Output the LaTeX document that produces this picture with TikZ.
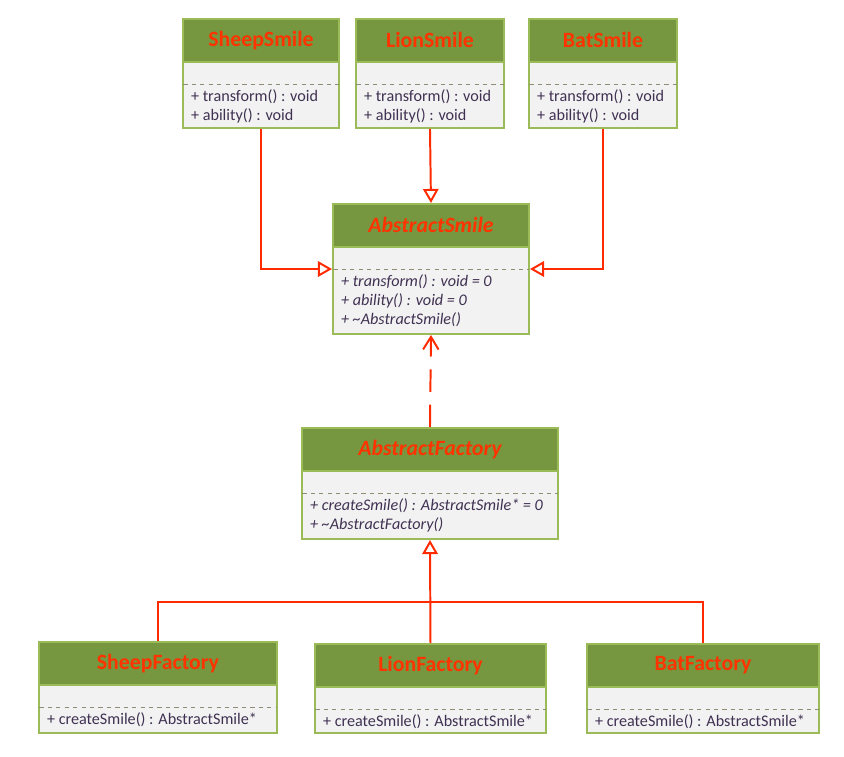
\documentclass[tikz,border=0pt]{standalone}
\usepackage{fontspec}
\setmainfont{Carlito}
\usetikzlibrary{arrows.meta,calc}

\definecolor{headgreen}{HTML}{76963F}
\definecolor{edgegreen}{HTML}{9BBB59}
\definecolor{bodygray}{HTML}{F2F2F2}
\definecolor{titlered}{HTML}{FF3300}
\definecolor{methodink}{HTML}{403152}
\definecolor{linkred}{HTML}{FF2A00}

\tikzset{
  classbody/.style={draw=edgegreen,fill=bodygray,line width=1.4pt,inner sep=0pt},
  classhead/.style={draw=edgegreen,fill=headgreen,line width=1.4pt,minimum height=1.07cm,
    inner sep=0pt,text=titlered,font=\fontsize{15.5}{18}\selectfont\bfseries},
  separator/.style={draw=gray!80!olive,dashed,line width=0.6pt},
  methods/.style={align=left,inner xsep=0.22cm,inner ysep=3.5pt,text=methodink,
    font=\fontsize{11.5}{13.8}\selectfont},
  inherit/.style={draw=linkred,line width=1.4pt,-{Triangle[open,length=10pt,width=11pt]}},
  realize/.style={draw=linkred,line width=1.4pt,dash pattern=on 16pt off 9pt,
    -{Straight Barb[length=9pt,width=11pt]}}
}

% name, top-left, width, height, title, methods
\newcommand{\umlclass}[6]{%
  \node[classbody,minimum width=#3cm,minimum height=#4cm,anchor=north west] (#1) at (#2) {};
  \node[classhead,minimum width=#3cm,anchor=north] (#1-head) at (#1.north) {#5};
  \coordinate (#1-sepw) at ([yshift=-1.65cm]#1.north west);
  \coordinate (#1-sepe) at ([yshift=-1.65cm]#1.north east);
  \draw[separator] ([xshift=1pt]#1-sepw) -- ([xshift=-1pt]#1-sepe);
  \node[methods,anchor=north west] at (#1-sepw) {#6};
}

\begin{document}
\begin{tikzpicture}
  \useasboundingbox (0,0) rectangle (21.1,-18.9);

  % concrete products
  \umlclass{sheepsmile}{4.55,-0.45}{3.9}{2.725}{SheepSmile}{+ transform() : void\\+ ability() : void}
  \umlclass{lionsmile}{8.875,-0.45}{3.7}{2.725}{LionSmile}{+ transform() : void\\+ ability() : void}
  \umlclass{batsmile}{13.2,-0.45}{3.7}{2.725}{BatSmile}{+ transform() : void\\+ ability() : void}

  % abstract product
  \umlclass{abssmile}{8.3,-5.075}{4.9}{3.25}{\itshape AbstractSmile}%
    {\itshape + transform() : void = 0\\\itshape + ability() : void = 0\\\itshape + \textasciitilde AbstractSmile()}

  % abstract factory
  \umlclass{absfactory}{7.525,-10.675}{6.4}{2.775}{\itshape AbstractFactory}%
    {\itshape + createSmile() : AbstractSmile* = 0\\\itshape + \textasciitilde AbstractFactory()}

  % concrete factories
  \umlclass{sheepfactory}{0.95,-16.025}{5.95}{2.275}{SheepFactory}{+ createSmile() : AbstractSmile*}
  \umlclass{lionfactory}{7.85,-16.075}{5.775}{2.225}{LionFactory}{+ createSmile() : AbstractSmile*}
  \umlclass{batfactory}{14.65,-16.075}{5.8}{2.225}{BatFactory}{+ createSmile() : AbstractSmile*}

  % product hierarchy
  \draw[inherit] (sheepsmile.south) |- (abssmile-sepw);
  \draw[inherit] (lionsmile.south) -- (abssmile-head.north);
  \draw[inherit] (batsmile.south) |- (abssmile-sepe);

  % factory uses product
  \draw[realize] (absfactory-head.north) -- (abssmile.south);

  % factory hierarchy
  \coordinate (fork) at ($(lionfactory-head.north)+(0,1.025)$);
  \draw[linkred,line width=1.4pt] (sheepfactory-head.north) |- (fork) -| (batfactory-head.north);
  \draw[inherit] (lionfactory-head.north) -- (absfactory.south);
\end{tikzpicture}
\end{document}
